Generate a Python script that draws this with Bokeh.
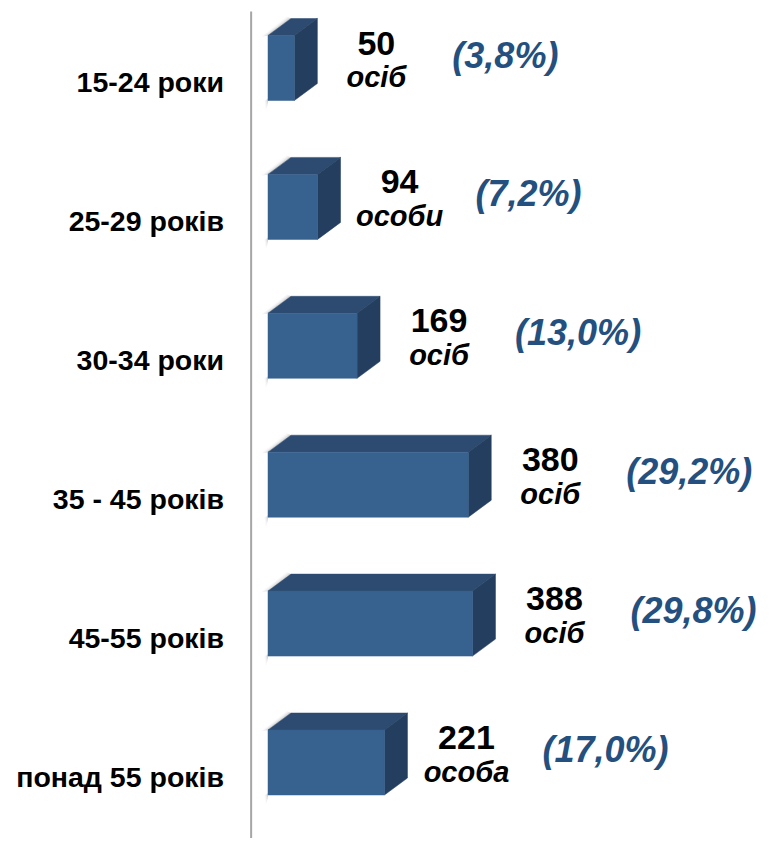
from bokeh.plotting import figure
from bokeh.models import Range1d, ColumnDataSource
from bokeh.core.properties import value
from bokeh.embed import file_html
from bokeh.resources import INLINE

# ---- data ----
categories = ["15-24 роки", "25-29 років", "30-34 роки", "35 - 45 років", "45-55 років", "понад 55 років"]
counts = [50, 94, 169, 380, 388, 221]
units = ["осіб", "особи", "осіб", "осіб", "осіб", "особа"]
shares = ["(3,8%)", "(7,2%)", "(13,0%)", "(29,2%)", "(29,8%)", "(17,0%)"]

# ---- layout constants (pixels) ----
W, H = 772, 838
PX_PER_UNIT = 0.527
ZERO_PX = 267.5
ROW_PX = 138.9
ROW0_PX = 67.5
BAR_PX = 65
DEPTH_X_PX = 23
DEPTH_Y_PX = 17

FRONT = "#37618F"
TOP = "#2D4B70"
SIDE = "#243E5F"
PCT_COLOR = "#24507F"
FONT = "Liberation Sans"

x_start = -ZERO_PX / PX_PER_UNIT
x_end = (W - ZERO_PX) / PX_PER_UNIT
y_bottom = (H - ROW0_PX) / ROW_PX
y_top = -ROW0_PX / ROW_PX

p = figure(width=W, height=H, x_range=Range1d(x_start, x_end),
           y_range=Range1d(y_bottom, y_top), output_backend="svg",
           toolbar_location=None, min_border=0,
           x_axis_location=None, y_axis_location=None)
p.grid.visible = False
p.outline_line_color = None
p.background_fill_color = "white"

rows = list(range(len(categories)))
h = BAR_PX / ROW_PX
dx = DEPTH_X_PX / PX_PER_UNIT
dy = DEPTH_Y_PX / ROW_PX
px = 1.0 / PX_PER_UNIT
py = 1.0 / ROW_PX

yt = [r - h / 2 for r in rows]
yb = [r + h / 2 for r in rows]

# axis line
p.segment(x0=[-32], y0=[y_top + 11 * py], x1=[-32], y1=[y_bottom],
          line_color="#A6A6A6", line_width=2)

# soft shadows on the upper-left edge
for s, a in [(7, 0.05), (5, 0.08), (3, 0.13), (1.5, 0.18)]:
    xs = [[0, dx, dx - s * px * 0.6, -s * px] for _ in rows]
    ys = [[t, t - dy, t - dy - s * py * 0.3, t + s * py * 0.2] for t in yt]
    p.patches(xs=xs, ys=ys, fill_color="#7F7F7F", fill_alpha=a, line_color=None)
    xs2 = [[0, -s * px * 0.5, -s * px * 0.3, 0] for _ in rows]
    ys2 = [[b - 2 * py, b, b + s * 1.4 * py, b + s * 0.6 * py] for b in yb]
    p.patches(xs=xs2, ys=ys2, fill_color="#7F7F7F", fill_alpha=a, line_color=None)

# top faces
p.patches(xs=[[0, dx, v + dx, v] for v in counts],
          ys=[[t, t - dy, t - dy, t] for t in yt],
          fill_color=TOP, line_color=TOP, line_width=0.5)
# side faces
p.patches(xs=[[v, v + dx, v + dx, v] for v in counts],
          ys=[[t, t - dy, b - dy, b] for t, b in zip(yt, yb)],
          fill_color=SIDE, line_color=SIDE, line_width=0.5)
# front faces
p.quad(left=0, right=counts, top=yt, bottom=yb, fill_color=FRONT, line_color=FRONT, line_width=0.5)

src = ColumnDataSource(dict(row=rows, count=counts, cat=categories,
                            num=[str(c) for c in counts], unit=units, share=shares,
                            zero=[0] * len(rows)))

p.text(x="zero", y="row", text="cat", source=src, x_offset=-44, y_offset=14,
       text_align="right", text_baseline="alphabetic",
       text_font=value(FONT), text_font_style="bold", text_font_size="28.5px", text_color="black")

p.text(x="count", y="row", text="num", source=src, x_offset=82, y_offset=-25,
       text_align="center", text_baseline="alphabetic",
       text_font=value(FONT), text_font_style="bold", text_font_size="34px", text_color="black")

p.text(x="count", y="row", text="unit", source=src, x_offset=82, y_offset=9,
       text_align="center", text_baseline="alphabetic",
       text_font=value(FONT), text_font_style="bold italic", text_font_size="29px", text_color="black")

p.text(x="count", y="row", text="share", source=src, x_offset=158, y_offset=-13,
       text_align="left", text_baseline="alphabetic",
       text_font=value(FONT), text_font_style="bold italic", text_font_size="36px", text_color=PCT_COLOR)

open("out.html", "w").write(file_html(p, INLINE))
